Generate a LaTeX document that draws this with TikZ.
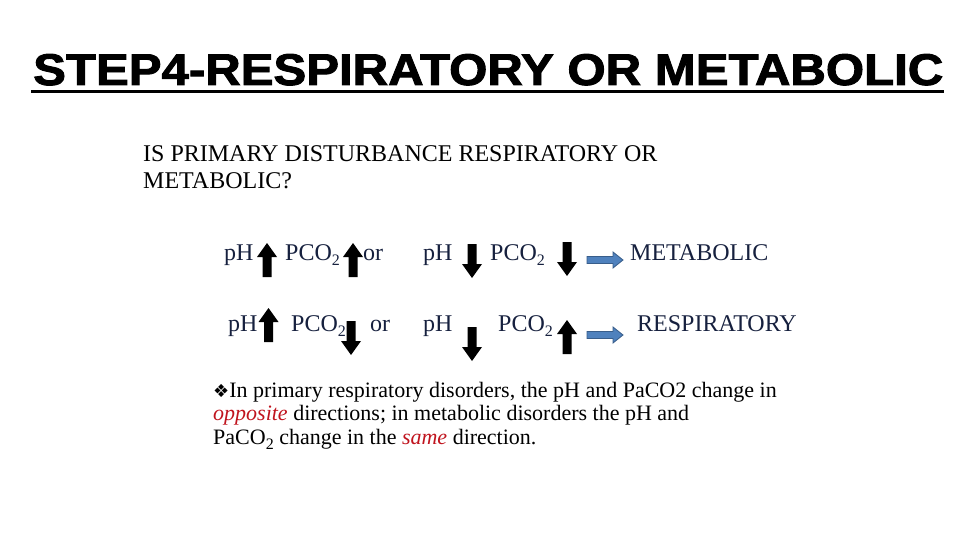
\documentclass[tikz,border=0pt]{standalone}
\usepackage{fontspec}
\setmainfont{Liberation Serif}
\newfontfamily\titlefont{Liberation Sans Bold}[FakeBold=2]
\newfontfamily\symfont{DejaVu Sans}
\usepackage{graphicx}
\definecolor{navytext}{RGB}{22,32,62}
\definecolor{darkred}{RGB}{192,20,30}
\definecolor{arrfill}{RGB}{79,129,189}
\definecolor{arrdraw}{RGB}{56,93,138}
\tikzset{
  uparr/.pic={\fill[black] (0,-17) -- (10,-3) -- (4.5,-3) -- (4.5,17) -- (-4.5,17) -- (-4.5,-3) -- (-10,-3) -- cycle;},
  downarr/.pic={\fill[black] (0,17) -- (10,3) -- (4.5,3) -- (4.5,-17) -- (-4.5,-17) -- (-4.5,3) -- (-10,3) -- cycle;},
  bluearr/.pic={\filldraw[fill=arrfill,draw=arrdraw,line width=0.8pt] (-18,-3.5) -- (8,-3.5) -- (8,-8) -- (18,0) -- (8,8) -- (8,3.5) -- (-18,3.5) -- cycle;},
  rowtext/.style={anchor=base west,inner sep=0pt,text=navytext,font=\fontsize{24}{28}\selectfont},
  bodytext/.style={anchor=base west,inner sep=0pt,text=black,font=\fontsize{24}{28}\selectfont},
  notetext/.style={anchor=base west,inner sep=0pt,text=black,font=\fontsize{22}{24}\selectfont}
}
\newcommand{\subtwo}{\raisebox{-5pt}{\fontsize{16}{16}\selectfont 2}}
\newcommand{\pco}{PCO\subtwo}
\begin{document}
\begin{tikzpicture}[x=1pt,y=-1pt]
\useasboundingbox (0,0) rectangle (960,540);
% title
\node[anchor=base west,inner sep=0pt] (title) at (33,85) {\resizebox{910pt}{31pt}{\titlefont STEP4-RESPIRATORY OR METABOLIC}};
\draw[line width=3.5pt] (31,91.5) coordinate (ul1) -- (944,91.5) coordinate (ul2);
% question
\node[bodytext] (q1) at (143,162) {IS PRIMARY DISTURBANCE RESPIRATORY OR};
\node[bodytext] (q2) at (143,188) {METABOLIC?};
% row 1
\node[rowtext] (r1ph) at (224,260) {pH};
\pic at (267,260) {uparr};
\node[rowtext] (r1pco) at (285,260) {\pco};
\pic at (353,260) {uparr};
\node[rowtext] (r1or) at (363,260) {or};
\node[rowtext] (r1ph2) at (423,260) {pH};
\pic at (472,261) {downarr};
\node[rowtext] (r1pco2) at (490,260) {\pco};
\pic at (567,259) {downarr};
\pic at (605,260) {bluearr};
\node[rowtext] (r1res) at (630,260) {METABOLIC};
% row 2
\node[rowtext] (r2ph) at (228,331) {pH};
\pic at (268.5,325) {uparr};
\node[rowtext] (r2pco) at (291,331) {\pco};
\pic at (351,338) {downarr};
\node[rowtext] (r2or) at (370,331) {or};
\node[rowtext] (r2ph2) at (423,331) {pH};
\pic at (472,344) {downarr};
\node[rowtext] (r2pco2) at (498,331) {\pco};
\pic at (567,337) {uparr};
\pic at (605,335) {bluearr};
\node[rowtext] (r2res) at (637,331) {RESPIRATORY};
% note
\node[notetext] (n1) at (213,397) {{\symfont\fontsize{18}{18}\selectfont ❖}In primary respiratory disorders, the pH and PaCO2 change in};
\node[notetext] (n2) at (213,420) {\textcolor{darkred}{\itshape opposite} directions; in metabolic disorders the pH and};
\node[notetext] (n3) at (213,444) {PaCO\subtwo{} change in the \textcolor{darkred}{\itshape same} direction.};
\end{tikzpicture}
\end{document}
